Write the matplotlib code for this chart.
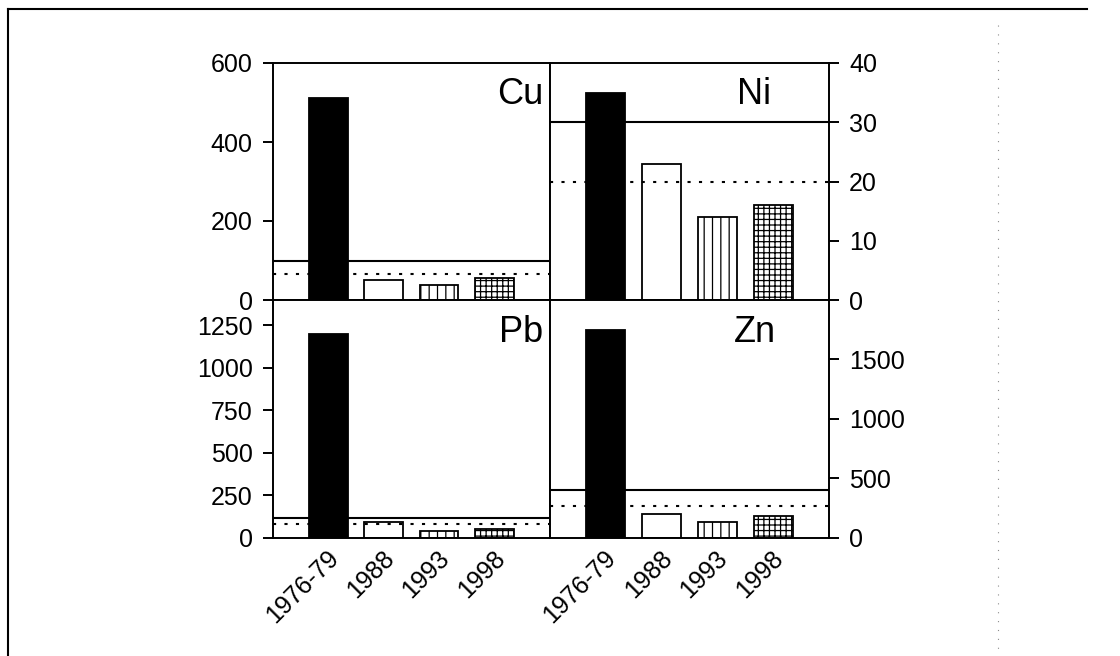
import matplotlib
matplotlib.use("Agg")
import matplotlib.pyplot as plt
import matplotlib.transforms as mtransforms
from matplotlib.lines import Line2D

plt.rcParams['font.family'] = ['Liberation Sans', 'DejaVu Sans']
plt.rcParams['hatch.linewidth'] = 0.9

years = ['1976-79', '1988', '1993', '1998']
cu = [512, 50, 38, 55]
ni = [35, 23, 14, 16]
pb = [1200, 95, 40, 50]
zn = [1750, 200, 135, 180]

cu_solid, cu_dot = 100, 65
ni_solid, ni_dot = 30, 20
pb_solid, pb_dot = 115, 80
zn_solid, zn_dot = 400, 270

cu_ticks = [0, 200, 400, 600]
ni_ticks = [0, 10, 20, 30, 40]
pb_ticks = [0, 250, 500, 750, 1000, 1250]
zn_ticks = [0, 500, 1000, 1500]

W, H = 1120, 656
fig = plt.figure(figsize=(W / 100, H / 100), dpi=100)

L = 272.7 / W
M = 550 / W
R = 829 / W
T = 1 - 63 / H
MID = 1 - 300 / H
B = 1 - 537.7 / H

axCu = fig.add_axes([L, MID, M - L, T - MID])
axNi = fig.add_axes([M, MID, R - M, T - MID])
axPb = fig.add_axes([L, B, M - L, MID - B])
axZn = fig.add_axes([M, B, R - M, MID - B])

styles = [dict(color='black', hatch=None),
          dict(color='white', hatch=None),
          dict(color='white', hatch='||'),
          dict(color='white', hatch='+++')]

pos = [1, 2, 3, 4]

panels = [
    (axCu, cu, cu_solid, cu_dot, (0, 600), cu_ticks, 'Cu', 'left', 0.975, 'right'),
    (axNi, ni, ni_solid, ni_dot, (0, 40), ni_ticks, 'Ni', 'right', 0.73, 'center'),
    (axPb, pb, pb_solid, pb_dot, (0, 1400), pb_ticks, 'Pb', 'left', 0.975, 'right'),
    (axZn, zn, zn_solid, zn_dot, (0, 2000), zn_ticks, 'Zn', 'right', 0.735, 'center'),
]

for ax, vals, solid, dot, ylim, ticks, name, side, tx, tha in panels:
    for p, v, st in zip(pos, vals, styles):
        ax.bar(p, v, width=0.7, color=st['color'], edgecolor='black',
               linewidth=1.3, hatch=st['hatch'], zorder=2)
    ax.axhline(solid, color='black', lw=1.5, zorder=3)
    ax.axhline(dot, color='black', lw=1.5, ls=(0, (1.5, 4)), zorder=3)
    ax.set_xlim(0, 5)
    ax.set_ylim(*ylim)
    ax.set_yticks(ticks)
    for sp in ax.spines.values():
        sp.set_linewidth(1.4)
    ax.tick_params(axis='y', direction='out', length=7.5, width=1.4,
                   labelsize=18, pad=7)
    if side == 'right':
        ax.yaxis.tick_right()
    else:
        ax.yaxis.tick_left()
    ax.text(tx, 0.865, name, transform=ax.transAxes, ha=tha, va='center',
            fontsize=26)

for ax in (axCu, axNi):
    ax.set_xticks([])

for ax in (axPb, axZn):
    ax.set_xticks(pos)
    ax.set_xticklabels(years, rotation=45, ha='right')
    ax.tick_params(axis='x', length=0, labelsize=18, pad=6)
    off = mtransforms.ScaledTranslation(0.15, 0, fig.dpi_scale_trans)
    for lab in ax.get_xticklabels():
        lab.set_transform(lab.get_transform() + off)

# outer page frame
fig.add_artist(Line2D([8 / W, 1087 / W], [1 - 9 / H, 1 - 9 / H],
                      transform=fig.transFigure, color='black', lw=1.5))
fig.add_artist(Line2D([8 / W, 8 / W], [1 - 9 / H, 0],
                      transform=fig.transFigure, color='black', lw=1.5))
fig.add_artist(Line2D([998 / W, 998 / W], [1 - 25 / H, 1 - 650 / H],
                      transform=fig.transFigure, color='0.55', lw=0.8,
                      ls=(0, (1, 7))))

fig.savefig('out.png', dpi=100, facecolor='white')
